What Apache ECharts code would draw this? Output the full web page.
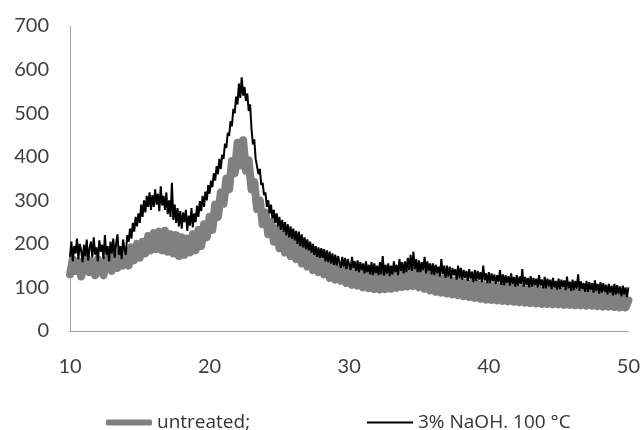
<!DOCTYPE html>
<html>
<head>
<meta charset="utf-8">
<title>XRD</title>
<script src="https://cdn.jsdelivr.net/npm/echarts@6/dist/echarts.min.js"></script>
<style>
  html, body { margin: 0; padding: 0; background: #fff; }
  #chart { width: 643px; height: 430px; }
</style>
</head>
<body>
<div id="chart"></div>
<script>
// 2-theta grid starts at 10; grey curve read every 0.2 deg, black every 0.1 deg
const thetaStart = 10
const untreatedStep = 0.2
const naohStep = 0.1

const xTicks = [10, 20, 30, 40, 50]
const yTicks = [0, 100, 200, 300, 400, 500, 600, 700]

const seriesNames = ['untreated;', '3% NaOH. 100 °C']

// untreated (grey), 10.0 .. 50.0
const untreated = [
  130, 165, 138, 160, 125, 150, 168, 135, 158, 128,
  165, 140, 128, 162, 170, 138, 172, 145, 180, 150,
  185, 150, 192, 162, 200, 168, 205, 178, 218, 185,
  225, 188, 228, 185, 230, 182, 222, 178, 220, 172,
  215, 175, 212, 180, 222, 185, 232, 195, 245, 215,
  262, 232, 290, 262, 318, 292, 350, 325, 390, 362,
  432, 380, 438, 368, 392, 325, 342, 280, 300, 245,
  272, 222, 250, 205, 235, 190, 222, 180, 212, 172,
  205, 165, 198, 155, 188, 148, 180, 140, 172, 135,
  168, 130, 162, 122, 155, 118, 150, 115, 146, 110,
  142, 106, 138, 104, 134, 100, 132, 98, 130, 96,
  130, 95, 131, 96, 132, 97, 134, 99, 136, 101,
  138, 102, 140, 103, 137, 100, 134, 97, 130, 93,
  126, 90, 122, 88, 120, 86, 118, 84, 116, 82,
  114, 80, 112, 78, 110, 76, 108, 74, 106, 72,
  104, 71, 103, 70, 102, 69, 101, 68, 100, 67,
  99, 66, 98, 65, 97, 64, 96, 63, 95, 62,
  94, 62, 93, 61, 92, 61, 91, 60, 90, 60,
  89, 59, 88, 59, 87, 58, 86, 58, 85, 57,
  84, 56, 83, 56, 82, 55, 81, 54, 80, 54,
  70
]

// 3% NaOH, 100 °C (black), 10.0 .. 50.0, one row per degree
const naoh = [
  170, 205, 160, 195, 178, 212, 165, 200, 185, 158,
  198, 172, 210, 162, 190, 205, 168, 215, 175, 192,
  160, 208, 182, 198, 165, 220, 175, 195, 160, 205,
  178, 212, 168, 200, 222, 175, 195, 165, 210, 188,
  175, 220, 205, 235, 212, 248, 228, 262, 240, 270,
  248, 290, 262, 300, 272, 310, 285, 318, 278, 312,
  285, 325, 290, 315, 275, 332, 288, 310, 278, 318,
  268, 300, 262, 340, 255, 290, 248, 282, 240, 275,
  235, 272, 250, 278, 230, 265, 242, 282, 238, 270,
  250, 288, 262, 298, 275, 310, 285, 320, 300, 335,
  315, 345, 330, 362, 345, 378, 360, 395, 372, 405,
  395, 430, 420, 455, 448, 482, 470, 510, 500, 538,
  520, 568, 535, 582, 540, 560, 528, 545, 505, 520,
  465, 428, 440, 395, 398, 360, 372, 335, 340, 312,
  318, 285, 300, 270, 290, 258, 278, 248, 270, 240,
  262, 232, 255, 228, 250, 220, 245, 215, 240, 212,
  235, 208, 230, 200, 228, 195, 222, 192, 215, 188,
  210, 185, 205, 180, 200, 175, 195, 170, 192, 168,
  190, 168, 188, 160, 185, 158, 182, 155, 178, 152,
  175, 150, 172, 158, 145, 170, 148, 168, 142, 165,
  165, 140, 170, 145, 160, 138, 162, 135, 158, 140,
  155, 132, 160, 135, 152, 130, 158, 128, 155, 133,
  150, 128, 158, 130, 172, 127, 152, 132, 155, 126,
  150, 130, 160, 135, 152, 128, 165, 138, 158, 132,
  160, 135, 168, 140, 175, 138, 182, 142, 165, 135,
  162, 135, 158, 140, 170, 132, 160, 138, 155, 130,
  155, 128, 152, 132, 148, 125, 165, 130, 150, 122,
  150, 125, 148, 120, 145, 128, 142, 118, 150, 122,
  145, 118, 140, 122, 138, 115, 142, 120, 136, 112,
  140, 115, 138, 118, 135, 112, 150, 116, 132, 110,
  135, 110, 132, 114, 130, 108, 128, 112, 140, 106,
  130, 105, 128, 110, 126, 104, 132, 108, 124, 102,
  128, 104, 125, 108, 142, 102, 124, 106, 122, 100,
  126, 102, 122, 105, 120, 100, 128, 104, 118, 98,
  124, 98, 120, 102, 118, 96, 122, 100, 115, 95,
  120, 96, 118, 100, 116, 94, 125, 98, 113, 92,
  118, 94, 115, 97, 130, 92, 114, 96, 110, 90,
  115, 90, 112, 94, 110, 88, 116, 92, 108, 86,
  112, 88, 110, 90, 106, 84, 108, 88, 104, 82,
  108, 84, 105, 86, 102, 80, 104, 84, 100, 78,
  100
]

const toPairs = (vals, step) => vals.map((v, i) => [+(thetaStart + i * step).toFixed(1), v])

const chart = echarts.init(document.getElementById('chart'))
const labelFont = 'Lato, "Open Sans", sans-serif'
const legendFont = '"Open Sans", Lato, sans-serif'

chart.setOption({
  animation: false,
  textStyle: { fontFamily: labelFont },
  grid: {
    left: 70,
    right: 13,
    top: 26,
    bottom: 99,
    containLabel: false
  },
  legend: [{
    data: [seriesNames[0]],
    left: 101,
    top: 408,
    icon: 'roundRect',
    itemWidth: 46,
    itemHeight: 6,
    itemGap: 0,
    itemStyle: { color: '#808080' },
    textStyle: { fontSize: 19, color: '#333', fontFamily: legendFont }
  }, {
    data: [seriesNames[1]],
    left: 362,
    top: 408,
    icon: 'rect',
    itemWidth: 46,
    itemHeight: 2,
    itemGap: 0,
    itemStyle: { color: '#000' },
    textStyle: { fontSize: 19, color: '#333', fontFamily: legendFont }
  }],
  xAxis: {
    type: 'value',
    min: xTicks[0],
    max: xTicks[xTicks.length - 1],
    interval: 10,
    axisLine: { lineStyle: { color: '#a0a0a0', width: 1 } },
    axisTick: { show: false },
    splitLine: { show: false },
    axisLabel: {
      margin: 26,
      fontSize: 20,
      color: '#404040',
      fontFamily: labelFont,
      showMaxLabel: true
    }
  },
  yAxis: {
    type: 'value',
    min: yTicks[0],
    max: yTicks[yTicks.length - 1],
    interval: 100,
    axisLine: { show: true, lineStyle: { color: '#a0a0a0', width: 1 } },
    axisTick: { show: false },
    splitLine: { show: false },
    axisLabel: {
      margin: 21,
      fontSize: 20,
      color: '#404040',
      fontFamily: labelFont
    }
  },
  series: [{
    name: seriesNames[0],
    type: 'line',
    data: toPairs(untreated, untreatedStep),
    showSymbol: false,
    symbol: 'none',
    lineStyle: { color: '#808080', width: 8, join: 'round', cap: 'round' },
    itemStyle: { color: '#808080' },
    z: 1
  }, {
    name: seriesNames[1],
    type: 'line',
    data: toPairs(naoh, naohStep),
    showSymbol: false,
    symbol: 'none',
    lineStyle: { color: '#000', width: 2 },
    itemStyle: { color: '#000' },
    z: 2
  }]
})
</script>
</body>
</html>
